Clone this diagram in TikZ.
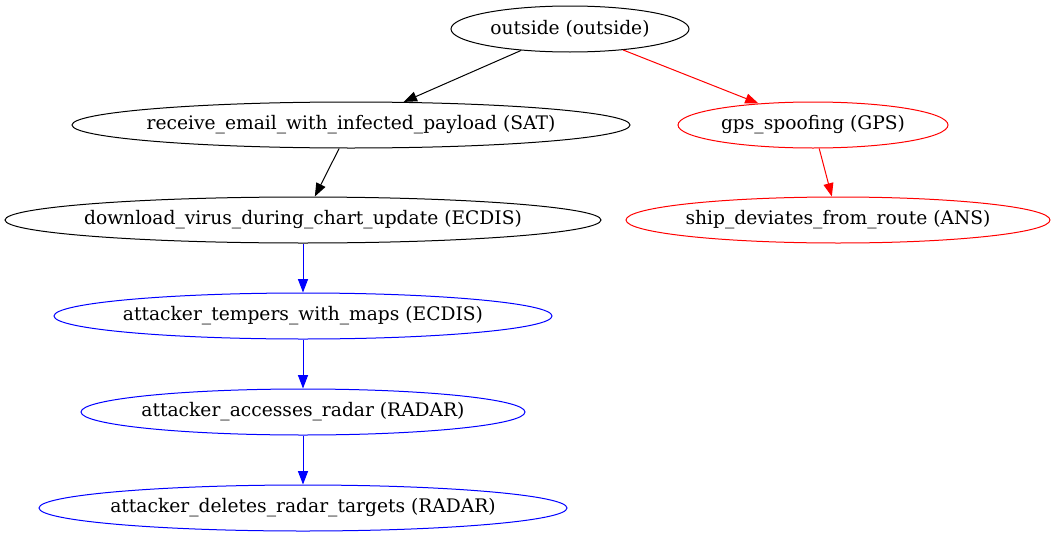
\documentclass[tikz,border=0pt]{standalone}
\usepackage{fontspec}
\setmainfont{DejaVu Serif}
\usepackage{xcolor}
\usetikzlibrary{arrows.meta,shapes.geometric}
\definecolor{cRed}{HTML}{FF0000}
\definecolor{cBlue}{HTML}{0000FF}
\tikzset{
  gnode/.style={ellipse, draw, line width=0.75pt, inner xsep=-20pt, inner ysep=0pt,
                font=\fontsize{14}{16}\selectfont, minimum height=34.5pt, minimum width=#1},
  garr/.style={-{Triangle[length=10pt,width=7.5pt]}, line width=0.75pt},
}
\begin{document}
\begin{tikzpicture}[x=0.75pt, y=-0.75pt]
\useasboundingbox (0,0) rectangle (1056,539);
\node[gnode=178.5pt] (out) at (570,29) {outside (outside)};
\node[gnode=418.5pt] (mail) at (351,125) {receive\_email\_with\_infected\_payload (SAT)};
\node[gnode=202.5pt, draw=cRed] (gps) at (813,125) {gps\_spoofing (GPS)};
\node[gnode=447pt] (virus) at (303,220) {download\_virus\_during\_chart\_update (ECDIS)};
\node[gnode=318pt, draw=cRed] (ship) at (838,220) {ship\_deviates\_from\_route (ANS)};
\node[gnode=373.5pt, draw=cBlue] (maps) at (303,316) {attacker\_tempers\_with\_maps (ECDIS)};
\node[gnode=333pt, draw=cBlue] (radar) at (303,412) {attacker\_accesses\_radar (RADAR)};
\node[gnode=396pt, draw=cBlue] (del) at (303,508) {attacker\_deletes\_radar\_targets (RADAR)};
% edges
\draw[garr] (out) -- (mail);
\draw[garr, color=cRed] (out) -- (gps);
\draw[garr] (mail) -- (virus);
\draw[garr, color=cRed] (gps) -- (ship);
\draw[garr, color=cBlue] (virus) -- (maps);
\draw[garr, color=cBlue] (maps) -- (radar);
\draw[garr, color=cBlue] (radar) -- (del);
\end{tikzpicture}
\end{document}
